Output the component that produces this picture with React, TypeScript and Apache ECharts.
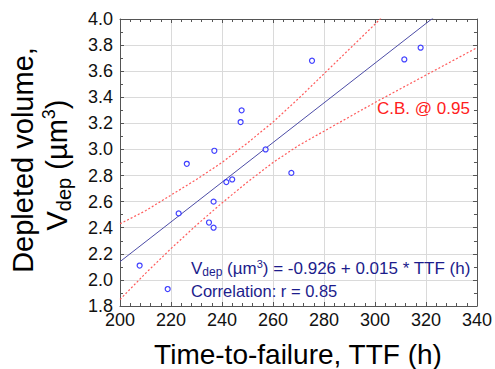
import React, { useEffect, useRef } from "react";
import * as echarts from "echarts";

// Measured points: time-to-failure (h) and depleted volume (µm³)
const ttf = [207.7, 218.7, 223.0, 226.2, 234.9, 236.7, 236.7, 237.0, 241.7, 244.0, 247.3, 247.7, 257.1, 267.2, 275.3, 311.5, 317.9];
const vdep = [2.11, 1.93, 2.51, 2.89, 2.44, 2.40, 2.60, 2.99, 2.75, 2.77, 3.21, 3.30, 3.00, 2.82, 3.68, 3.69, 3.78];

// Regression line
const fitX = [200, 340];
const fitY = [2.14, 4.27];

// 95% confidence bands
const upperX = [200, 210, 220, 230, 240, 250, 260, 270, 280, 290, 300, 310];
const upperY = [2.43, 2.53, 2.65, 2.77, 2.90, 3.05, 3.21, 3.39, 3.58, 3.77, 3.96, 4.16];
const lowerX = [200, 210, 220, 230, 240, 250, 260, 270, 280, 290, 300, 320, 340];
const lowerY = [1.85, 2.05, 2.24, 2.42, 2.59, 2.75, 2.90, 3.03, 3.14, 3.25, 3.36, 3.57, 3.78];

const xMin = 200, xMax = 340, xStep = 20;
const yMin = 1.8, yMax = 4.0, yStep = 0.2;

const FONT = "'Liberation Sans', Arial, Helvetica, sans-serif";

export default function App() {
  const ref = useRef<HTMLDivElement>(null);
  useEffect(() => {
    document.body.style.margin = "0";
    if (!ref.current) return;
    const chart = echarts.init(ref.current, undefined, { renderer: "svg" });
    const axisColor = "#555";
    const xBase = {
      type: "value" as const,
      min: xMin,
      max: xMax,
      interval: xStep,
      axisLine: { show: true, onZero: false, lineStyle: { color: axisColor, width: 1 } },
      axisTick: { show: true, inside: true, length: 4, lineStyle: { color: axisColor } },
      minorTick: { show: true, splitNumber: 5, length: 3, lineStyle: { color: axisColor } },
    };
    const yBase = {
      type: "value" as const,
      min: yMin,
      max: yMax,
      interval: yStep,
      axisLine: { show: true, onZero: false, lineStyle: { color: axisColor, width: 1 } },
      axisTick: { show: true, inside: true, length: 4, lineStyle: { color: axisColor } },
      minorTick: { show: true, splitNumber: 2, length: 3, lineStyle: { color: axisColor } },
    };
    const bandStyle = { color: "#ff5a5a", width: 1.2, type: [2, 2] as number[] };
    chart.setOption({
      animation: false,
      backgroundColor: "#fff",
      grid: { left: 120, right: 18, top: 19, bottom: 63, containLabel: false },
      xAxis: [
        {
          ...xBase,
          position: "bottom",
          splitLine: { show: true, lineStyle: { color: "#dadada", width: 1 } },
          axisLabel: { fontSize: 18, color: "#111", margin: 5, fontFamily: FONT },
        },
        {
          ...xBase,
          position: "top",
          splitLine: { show: false },
          axisLabel: { show: false },
        },
      ],
      yAxis: [
        {
          ...yBase,
          position: "left",
          splitLine: { show: true, lineStyle: { color: "#dadada", width: 1 } },
          axisLabel: {
            fontSize: 18,
            color: "#111",
            margin: 7,
            fontFamily: FONT,
            formatter: (v: number) => v.toFixed(1),
          },
        },
        {
          ...yBase,
          position: "right",
          splitLine: { show: false },
          axisLabel: { show: false },
        },
      ],
      series: [
        {
          type: "line",
          data: upperX.map((x, i) => [x, upperY[i]]),
          smooth: false,
          symbol: "none",
          clip: true,
          lineStyle: bandStyle,
          z: 2,
        },
        {
          type: "line",
          data: lowerX.map((x, i) => [x, lowerY[i]]),
          smooth: false,
          symbol: "none",
          clip: true,
          lineStyle: bandStyle,
          z: 2,
        },
        {
          type: "line",
          data: fitX.map((x, i) => [x, fitY[i]]),
          symbol: "none",
          clip: true,
          lineStyle: { color: "#4c4ca6", width: 1 },
          z: 3,
        },
        {
          type: "scatter",
          data: ttf.map((x, i) => [x, vdep[i]]),
          symbol: "circle",
          symbolSize: 5,
          itemStyle: { color: "#fff", borderColor: "#1010ff", borderWidth: 1.2 },
          z: 4,
        },
      ],
      graphic: [
        {
          type: "text",
          x: 377,
          y: 108,
          z: 10,
          style: {
            text: "C.B. @ 0.95",
            fontSize: 17,
            fontFamily: FONT,
            fill: "#ff2020",
            align: "left",
            verticalAlign: "middle",
          },
        },
        {
          type: "text",
          x: 191,
          y: 268,
          z: 10,
          style: {
            text: "{m|V}{s|dep}{m| (µm}{p|3}{m|) = -0.926 + 0.015 * TTF (h)}",
            fontFamily: FONT,
            fill: "#1c1c8c",
            align: "left",
            verticalAlign: "middle",
            rich: {
              m: { fontSize: 17, lineHeight: 20, fontFamily: FONT, fill: "#1c1c8c" },
              s: { fontSize: 12, lineHeight: 10, verticalAlign: "bottom", fontFamily: FONT, fill: "#1c1c8c" },
              p: { fontSize: 11, lineHeight: 16, verticalAlign: "top", fontFamily: FONT, fill: "#1c1c8c" },
            },
          },
        },
        {
          type: "text",
          x: 191,
          y: 290.5,
          z: 10,
          style: {
            text: "Correlation: r = 0.85",
            fontSize: 16.5,
            fontFamily: FONT,
            fill: "#1c1c8c",
            align: "left",
            verticalAlign: "middle",
          },
        },
        {
          type: "text",
          x: 298,
          y: 354,
          style: {
            text: "Time-to-failure, TTF (h)",
            fontSize: 28,
            fontFamily: FONT,
            fill: "#000",
            align: "center",
            verticalAlign: "middle",
          },
        },
        {
          type: "text",
          x: 23,
          y: 160,
          rotation: Math.PI / 2,
          style: {
            text: "Depleted volume,",
            fontSize: 29,
            fontFamily: FONT,
            fill: "#000",
            align: "center",
            verticalAlign: "middle",
          },
        },
        {
          type: "text",
          x: 57,
          y: 165,
          rotation: Math.PI / 2,
          style: {
            text: "{m|V}{s|dep}{m| (µm}{p|3}{m|)}",
            fontFamily: FONT,
            fill: "#000",
            align: "center",
            verticalAlign: "middle",
            rich: {
              m: { fontSize: 29, lineHeight: 34, fontFamily: FONT, fill: "#000" },
              s: { fontSize: 20, lineHeight: 18, verticalAlign: "bottom", fontFamily: FONT, fill: "#000" },
              p: { fontSize: 18, lineHeight: 24, verticalAlign: "top", fontFamily: FONT, fill: "#000" },
            },
          },
        },
      ],
    });
    return () => chart.dispose();
  }, []);
  return <div ref={ref} style={{ width: 495, height: 369 }} />;
}
